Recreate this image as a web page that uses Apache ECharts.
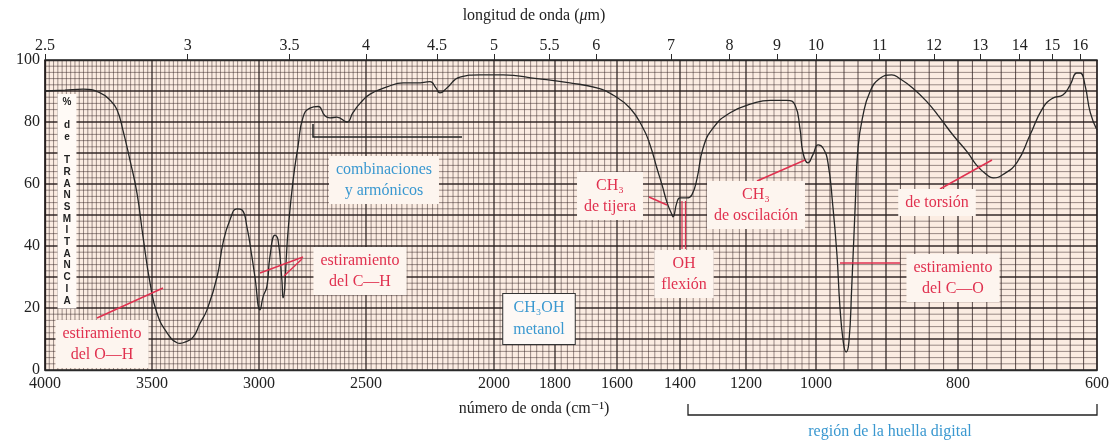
<!DOCTYPE html>
<html>
<head>
<meta charset="utf-8">
<script src="https://cdn.jsdelivr.net/npm/echarts@6/dist/echarts.min.js"></script>
<style>
html,body{margin:0;padding:0;background:#ffffff;}
#chart{width:1113px;height:443px;}
</style>
</head>
<body>
<div id="chart"></div>
<script>
// IR spectrum of methanol (CH3OH): % transmittance against wavenumber.

// Wavenumber readings (cm-1) and transmittance (%) of the trace
const wavenumber = [4000,3907,3822,3743,3696,3664,3636,3603,3570,3542,3509,3477,3430,3383,3369,3346,3308,3276,3243,3196,3168,3136,3103,3079,3056,3033,3019,2995,2981,2963,2949,2925,2911,2893,2888,2864,2841,2818,2794,2762,2724,2692,2668,2636,2589,2561,2528,2484,2418,2355,2301,2250,2227,2211,2184,2133,2055,1970,1859,1752,1665,1613,1559,1517,1495,1473,1457,1441,1425,1422,1410,1400,1379,1364,1348,1330,1300,1248,1180,1131,1083,1060,1046,1037,1023,1009,997,990,983,976,970,966,961,957,953,949,944,940,933,923,909,892,881,863,843,825,807,787,774,760,751,738,718,700,681,666,651,640,630,625,618,610,600];
const transmittance = [90,90.3,90.6,89.4,87,84,77.4,67.7,57,43,28,18.4,12,8.8,8.6,9,10.6,15,19.4,30,41,48.4,52,51.6,46,36.5,30,19.4,23.6,27,36.5,43.5,42,29,23.3,45,61,72,81.6,84.5,85,82,81.3,81.6,80,83,86,89,91.3,92.6,92.6,93,91,89.4,91,94.5,95.2,95.2,94,92.6,91,88.7,84.5,78,72.6,65,59.7,54,50,49.4,54,55.5,55.5,56.5,62,71.6,78,83,86,87,87,85.5,78,70,66.8,69.4,72.6,71.6,67,53,37,21,9,5.8,9,26.5,53,71.6,82,89.7,94,95.2,94,91,86.5,81.3,75.8,70.3,66,63,62,63,67,75.8,84.5,87.7,88.7,92,95.8,95.8,92,83,77.4];

// Tick labels
const wavenumberTicks = [4000,3500,3000,2500,2000,1800,1600,1400,1200,1000,800,600];
const wavelengthTicks = [2.5,3,3.5,4,4.5,5,5.5,6,7,8,9,10,11,12,13,14,15,16];
const transmittanceTicks = [0,20,40,60,80,100];

// The chart paper stretches the wavenumber scale piecewise: knots (cm-1) and
// their running position along the paper (0..1052)
const scaleKnots = [4000,3500,3000,2500,2000,1800,1600,1400,1200,1000,900,800,700,600];
const scaleRun   = [0,107,214,321,449,510,572,635,701,771,841,913,985,1052];
const RUN_MAX = 1052;

function paperPos(wn){
  if (wn >= scaleKnots[0]) return 0;
  for (let i = 0; i < scaleKnots.length - 1; i++){
    const a = scaleKnots[i], b = scaleKnots[i+1];
    if (wn <= a && wn >= b){
      return scaleRun[i] + (a - wn) / (a - b) * (scaleRun[i+1] - scaleRun[i]);
    }
  }
  return RUN_MAX;
}

const bottomTickPos = wavenumberTicks.map(paperPos);
const topTickPos = wavelengthTicks.map(l => paperPos(10000 / l));

function labelFor(v, positions, labels){
  let best = 0, d = Infinity;
  positions.forEach((p, i) => { const dd = Math.abs(p - v); if (dd < d){ d = dd; best = i; } });
  return String(labels[best]);
}

const spectrum = wavenumber.map((w, i) => [paperPos(w), transmittance[i]]);

// Chart-paper rulings
const vLines = [];
for (let w = 4000; w >= 600; w -= 20){
  let heavy = false;
  if (w > 2000) heavy = (w % 500 === 0);
  else if (w > 1000) heavy = (w % 200 === 0);
  else heavy = (w % 100 === 0);
  vLines.push([paperPos(w), heavy ? 2 : (w <= 1000 ? 1 : 0)]);
}
const hLines = [];
for (let t = 2; t < 100; t += 2){
  hLines.push([t, t % 10 === 0 ? 2 : 0]);
}

const RULE_STYLES = [
  {stroke:'rgba(50,35,35,0.62)', lineWidth:0.8},
  {stroke:'rgba(50,35,35,0.8)', lineWidth:1},
  {stroke:'rgba(35,25,25,0.92)', lineWidth:1.3}
];

const RED = '#e0314f';
const BLUE = '#3a98d0';
const SERIF = '"Liberation Serif","DejaVu Serif",serif';
const BOX_BG = '#fdf5ef';

function label(x, y, text, color){
  return {
    type:'text', z:50,
    style:{
      x:x, y:y, text:text, fill:color, align:'center', verticalAlign:'top',
      font:'16px ' + SERIF, lineHeight:21,
      backgroundColor:BOX_BG, padding:[3,7,3,7]
    }
  };
}
function seg(points, color, width){
  return {type:'polyline', z:49, shape:{points:points}, style:{stroke:color, lineWidth:width || 1.5, fill:null}};
}

const chart = echarts.init(document.getElementById('chart'), null, {renderer:'canvas'});

chart.setOption({
  backgroundColor:'#ffffff',
  animation:false,
  grid:{left:45, right:16, top:60, bottom:73, show:true, backgroundColor:'#fbece2', borderColor:'#2a2a2a', borderWidth:1.3},
  xAxis:[
    {
      type:'value', position:'bottom', min:0, max:RUN_MAX,
      axisLine:{show:true, lineStyle:{color:'#2a2a2a', width:1.3}},
      axisTick:{show:false},
      splitLine:{show:false},
      axisLabel:{
        customValues:bottomTickPos, margin:6,
        color:'#222', fontFamily:SERIF, fontSize:16,
        formatter:v => labelFor(v, bottomTickPos, wavenumberTicks)
      },
      name:'número de onda (cm⁻¹)', nameLocation:'middle', nameGap:31,
      nameTextStyle:{color:'#222', fontFamily:SERIF, fontSize:16, padding:[0,74,0,0]}
    },
    {
      type:'value', position:'top', min:0, max:RUN_MAX,
      axisLine:{show:true, lineStyle:{color:'#2a2a2a', width:1.3}},
      axisTick:{show:true, inside:false, length:6, customValues:topTickPos, lineStyle:{color:'#2a2a2a', width:1}},
      splitLine:{show:false},
      axisLabel:{
        customValues:topTickPos, margin:6,
        color:'#222', fontFamily:SERIF, fontSize:16,
        formatter:v => labelFor(v, topTickPos, wavelengthTicks)
      },
      name:'longitud de onda ({i|μ}m)', nameLocation:'middle', nameGap:36,
      nameTextStyle:{color:'#222', fontFamily:SERIF, fontSize:16, padding:[0,74,0,0],
        rich:{i:{fontStyle:'italic', fontFamily:SERIF, fontSize:16, color:'#222'}}}
    }
  ],
  yAxis:{
    type:'value', min:0, max:100, interval:20,
    axisLine:{show:true, lineStyle:{color:'#2a2a2a', width:1.3}},
    axisTick:{show:false},
    splitLine:{show:false},
    axisLabel:{color:'#222', fontFamily:SERIF, fontSize:16, margin:5,
      formatter:v => transmittanceTicks.includes(v) ? String(v) : ''}
  },
  series:[
    {
      type:'custom', name:'vertical rulings', silent:true, z:1, xAxisIndex:0,
      data:vLines, encode:{x:0, y:-1},
      renderItem:(params, api) => {
        const p0 = api.coord([api.value(0), 0]);
        const p1 = api.coord([api.value(0), 100]);
        return {type:'line', shape:{x1:p0[0], y1:p0[1], x2:p1[0], y2:p1[1]}, style:RULE_STYLES[api.value(1)]};
      }
    },
    {
      type:'custom', name:'horizontal rulings', silent:true, z:1, xAxisIndex:0,
      data:hLines, encode:{y:0, x:-1},
      renderItem:(params, api) => {
        const p0 = api.coord([0, api.value(0)]);
        const p1 = api.coord([RUN_MAX, api.value(0)]);
        return {type:'line', shape:{x1:p0[0], y1:p0[1], x2:p1[0], y2:p1[1]}, style:RULE_STYLES[api.value(1)]};
      }
    },
    {
      type:'line', name:'CH3OH', xAxisIndex:0, z:10,
      data:spectrum, showSymbol:false, smooth:0.5,
      lineStyle:{color:'#262626', width:1.3}
    }
  ],
  graphic:[
    // vertical axis caption
    {type:'text', z:50, style:{x:67, y:94, text:'%\n\nd\ne\n\nT\nR\nA\nN\nS\nM\nI\nT\nA\nN\nC\nI\nA',
      align:'center', verticalAlign:'top', fill:'#222', font:'bold 10px "Liberation Sans",Arial,sans-serif',
      lineHeight:11.7, backgroundColor:'#fffaf6', padding:[2,5,2,5]}},

    // O-H stretch
    seg([[97,318],[163,288]], RED),
    label(102, 320, 'estiramiento\ndel O—H', RED),

    // C-H stretch
    seg([[260,273],[303,257]], RED),
    seg([[284,276],[302,259]], RED),
    label(360, 247, 'estiramiento\ndel C—H', RED),

    // overtones bracket and caption
    seg([[313,124],[313,137],[462,137]], '#222', 1.5),
    label(384, 156, 'combinaciones\ny armónicos', BLUE),

    // compound name
    {type:'text', z:50, style:{x:539, y:294, text:'CH₃OH\nmetanol', fill:BLUE, align:'center', verticalAlign:'top',
      font:'16px ' + SERIF, lineHeight:22, backgroundColor:'#fdf8f5', borderColor:'#333', borderWidth:1, padding:[3,10,3,10]}},

    // CH3 scissoring
    seg([[649,197],[667,205]], RED),
    label(610, 172, 'CH₃\nde tijera', RED),

    // OH bending
    seg([[682,201],[682,249]], RED, 1.2),
    seg([[685.5,201],[685.5,249]], RED, 1.2),
    label(684, 250, 'OH\nflexión', RED),

    // CH3 rocking
    seg([[757,181],[805,160]], RED),
    label(756, 181, 'CH₃\nde oscilación', RED),

    // torsion
    seg([[940,189],[992,160]], RED),
    label(937, 189, 'de torsión', RED),

    // C-O stretch
    seg([[840,263],[900,263]], RED),
    label(953, 254, 'estiramiento\ndel C—O', RED),

    // fingerprint region bracket
    seg([[688,404],[688,415],[1097,415],[1097,404]], '#222', 1.3),
    {type:'text', z:50, style:{x:890, y:424, text:'región de la huella digital', fill:BLUE, align:'center', verticalAlign:'top',
      font:'16px ' + SERIF}}
  ]
});
</script>
</body>
</html>
